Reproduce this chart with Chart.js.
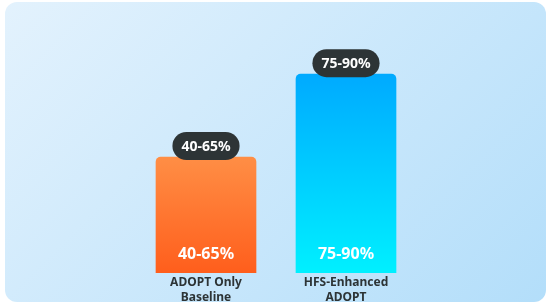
<!DOCTYPE html>
<html>
<head>
<meta charset="utf-8">
<script src="https://cdn.jsdelivr.net/npm/chart.js@4.4.0/dist/chart.umd.min.js"></script>
<style>
  body { margin: 0; background: #fff; }
  #box {
    position: absolute; left: 5px; top: 2px; width: 541px; height: 300px;
    border-radius: 12px;
    background: linear-gradient(135deg, #e3f2fd 0%, #b3defa 100%);
  }
  canvas { display: block; }
</style>
</head>
<body>
<div id="box"><canvas id="chart" width="541" height="300"></canvas></div>
<script>
// data
const categories = [['ADOPT Only', 'Baseline'], ['HFS-Enhanced', 'ADOPT']];
const lowValues = [40, 75];
const highValues = [65, 90];
const rangeLabels = lowValues.map((lo, i) => lo + '-' + highValues[i] + '%');

const gradColors = [
    ['#ff8e45', '#ff5e1c'],
    ['#00aaff', '#00f0ff']
];

function barGradient(context) {
    const chart = context.chart;
    if (!chart.chartArea) return gradColors[context.dataIndex][0];
    const yScale = chart.scales.y;
    const top = yScale.getPixelForValue(highValues[context.dataIndex]);
    const bottom = yScale.getPixelForValue(yScale.min);
    const g = chart.ctx.createLinearGradient(0, top, 0, bottom);
    g.addColorStop(0, gradColors[context.dataIndex][0]);
    g.addColorStop(1, gradColors[context.dataIndex][1]);
    return g;
}

// labels: pill on top, white text inside at the bottom
const rangeLabelPlugin = {
    id: 'rangeLabels',
    afterDatasetsDraw(chart) {
        const ctx = chart.ctx;
        const meta = chart.getDatasetMeta(0);
        const bottom = chart.scales.y.getPixelForValue(chart.scales.y.min);
        meta.data.forEach((bar, i) => {
            const txt = rangeLabels[i];
            ctx.save();
            ctx.font = 'bold 14px "Noto Sans"';
            const w = ctx.measureText(txt).width + 18;
            const h = 28;
            const cy = bar.y - 11;
            ctx.fillStyle = '#2d3436';
            ctx.beginPath();
            ctx.roundRect(bar.x - w / 2, cy - h / 2, w, h, h / 2);
            ctx.fill();
            ctx.fillStyle = '#ffffff';
            ctx.textAlign = 'center';
            ctx.textBaseline = 'middle';
            ctx.fillText(txt, bar.x, cy + 1);

            ctx.font = 'bold 16px "Noto Sans"';
            ctx.fillText(txt, bar.x, bottom - 19);
            ctx.restore();
        });
    }
};

const ctx = document.getElementById('chart').getContext('2d');
const chart = new Chart(ctx, {
    type: 'bar',
    data: {
        labels: categories,
        datasets: [{
            data: highValues,
            backgroundColor: barGradient,
            borderRadius: { topLeft: 5, topRight: 5 },
            borderSkipped: 'bottom',
            barThickness: 100
        }]
    },
    options: {
        responsive: false,
        animation: false,
        layout: { padding: { left: 131, right: 130, top: 39, bottom: -5 } },
        plugins: {
            legend: { display: false },
            tooltip: { enabled: false }
        },
        scales: {
            x: {
                grid: { display: false, drawTicks: false },
                border: { display: false },
                ticks: {
                    color: '#2d3436',
                    padding: 2,
                    font: { family: 'Noto Sans', size: 12, weight: 'bold', lineHeight: 1.25 }
                }
            },
            y: {
                display: false,
                min: 30,
                max: 100
            }
        }
    },
    plugins: [rangeLabelPlugin]
});
</script>
</body>
</html>
